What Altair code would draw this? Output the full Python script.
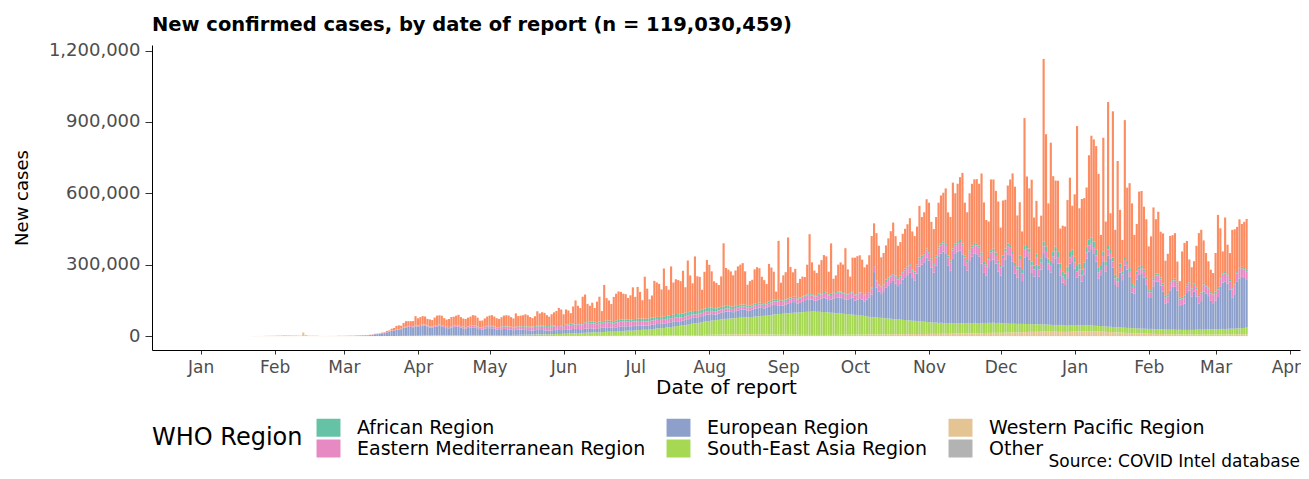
import altair as alt
import pandas as pd

TITLE = "New confirmed cases, by date of report (n = 119,030,459)"
Y_TITLE = "New cases"
X_TITLE = "Date of report"
LEGEND_TITLE = "WHO Region"
CAPTION = "Source: COVID Intel database"
FONT = "DejaVu Sans"

# ---- daily new confirmed cases, in thousands, one value per day from each series' start date ----
AMR_START = "2020-03-01"
AMR_K = (
    [0.02,0.03,0.03,0.05,0.08,0.1,0.1,0.15,0.2,0.3,0.4,0.5,0.6,0.9,1.0,1.2,1.8,2.0,4.5,4.0,8,9,13,16,12,18,23,20,20,22,38]
    + [30.5,33,35,34,27,29,27,34,40,39,39,32,30,33,38,37,39,44,37,34,34,36,38,43,42,36,27,29,34,39]
    + [43,45,41,37,35,40,44,46,45,40,36,56,43,44,46,51,47,40,36,42,61,52,57,55,46,40,49,55,59,72,66]
    + [45,64,58,45,71,95,73,63,110,117,77,67,80,58,88,104,42,151,93,84,71,102,112,120,116,108,106,90,103,134]
    + [93,134,112,77,176,127,80,93,153,145,139,115,203,126,109,204,135,146,143,138,180,107,217,151,116,229,146,140,83,155,202]
    + [181,153,113,106,95,128,265,159,153,147,132,148,163,168,174,139,88,102,105,144,151,144,110,97,79,158,140,117,35,249,75]
    + [105,115,256,129,103,117,64,78,84,78,125,251,134,104,93,122,139,155,153,95,212,58,70,113,122,116,191,100,65,141]
    + [154,155,156,139,115,119,150,216,175,199,162,123,133,144,165,185,212,165,136,141,157,168,178,193,159,149,160,217,161,171,207]
    + [203,153,143,163,184,203,206,233,182,183,277,212,241,264,297,221,201,240,259,267,269,259,332,250,186,149,297,291,259,249]
    + [157,231,205,244,275,326,320,214,225,162,538,288,253,344,201,221,163,179,768,471,232,497,316,278,299,147,191,198,280,312,184]
    + [263,588,232,297,270,249,355,427,429,436,392,127,477,167,601,150,615,189,491,226,131,575,308,357,339,212,200,316,315,264,242]
    + [184,226,297,228,260,192,211,145,170,195,184,191,88,70,191,220,184,96,89,93,177,260,263,179,135,109,94,90]
    + [162,307,205,92,229,124,113,245,232,190,207,180,194,214]
)

AFR_START = "2020-03-13"
AFR_K = (
    [0.01,0.01,0.02,0.03,0.04,0.05,0.06,0.07,0.1,0.1,0.15,0.15,0.2,0.25,0.3,0.3,0.35,0.35,0.4]
    + [0.4,0.5,0.5,0.6,0.5,0.6,0.6,0.7,0.6,0.7,0.7,0.8,0.7,0.7,0.8,0.9,0.9,0.8,1.0,1.0,1.1,1.1,1.0,1.2,1.3,1.2,1.3,1.4,1.4,1.6]
    + [1.5,1.7,1.6,1.7,1.8,1.8,2.0,2.0,2.2,2.1,2.3,2.5,2.4,2.6,2.8,2.7,2.9,3.1,3.0,3.2,3.4,3.3,3.6,3.5,3.7,3.9,3.8,4.1,4.0,4.3,4.4]
    + [4.5,4.7,4.8,5.1,5.2,5.5,5.4,5.8,6.1,6.2,6.5,6.6,6.9,7.0,6.8,7.3,7.4,7.7,7.8,8.1,8.2,8.5,8.6,8.9,9.0,9.3,9.4,9.7,9.8,10.1]
    + [10.0,10.4,10.5,10.9,11.0,11.1,11.6,11.8,12.1,12.2,12.6,12.8,13.0,13.3,13.5,13.9,14.0,14.3,14.2,14.6,14.5,14.8,14.9,14.7,14.8,14.6,14.5,14.1,14.0,13.7,13.5]
    + [13.2,13.1,12.6,12.5,12.0,11.8,11.3,11.1,10.6,10.5,10.0,9.8,9.3,9.2,8.7,8.6,8.2,8.2,7.8,7.8,7.4,7.4,7.0,7.1,6.8,6.9,6.6,6.7,6.4,6.5,6.2]
    + [6.3,6.0,6.1,5.8,5.9,5.6,5.7,5.4,5.5,5.2,5.3,5.0,5.1,4.9,5.0,5.1,4.9,5.0,5.1,4.9,5.0,5.2,4.9,5.1,5.0,4.8,5.0,5.1,4.9,5.0]
    + [5.1,4.9,5.0,5.2,4.8,5.0,5.1,4.9,5.0,5.1,5.0,5.2,5.3,5.5,5.4,5.6,5.8,5.7,5.9,6.1,6.0,6.2,6.4,6.3,6.5,6.7,6.6,6.8,7.0,6.9,7.1]
    + [7.2,7.4,7.3,7.5,7.7,7.6,7.8,8.0,7.9,8.1,8.3,8.2,8.4,8.6,8.5,8.7,8.9,8.8,9.0,9.2,9.1,9.3,9.5,9.4,9.6,9.8,9.7,9.9,10.1,10.0]
    + [10.0,10.6,11.0,11.4,12.1,12.5,12.9,13.6,14.0,14.4,15.1,15.5,15.9,16.6,17.0,17.4,18.1,18.5,18.9,19.6,20.0,20.4,21.1,21.5,21.8,22.1,21.9,22.2,21.8,22.6,23.0]
    + [22.8,23.6,24.1,23.9,24.2,24.0,23.8,23.6,23.1,22.9,22.2,21.0,20.1,18.9,18.1,16.9,16.1,15.0,14.6,13.9,13.6,12.9,12.6,11.9,11.6,10.9,10.6,10.1,9.9,9.6,9.4]
    + [9.1,8.9,9.0,8.6,8.4,8.5,8.1,7.9,8.0,7.6,7.4,7.5,7.1,6.9,7.0,7.1,6.9,6.6,6.4,6.5,6.6,6.4,6.5,6.1,5.9,6.0,6.1,5.9]
    + [6.0,6.1,5.9,6.0,6.2,5.8,6.0,6.1,5.9,6.0,6.2,5.9,6.0,6.1]
)

EMR_START = "2020-02-20"
EMR_K = (
    [0.01,0.02,0.03,0.05,0.05,0.07,0.1,0.1,0.15,0.2]
    + [0.3,0.5,0.6,0.7,0.7,0.8,1.1,0.9,0.6,0.9,1.1,1.2,1.0,1.5,1.3,1.5,1.6,1.5,1.8,1.5,1.4,1.5,2.0,2.2,2.5,2.6,3.0,3.4,3.8,3.5,4.0]
    + [4.2,4.5,4.6,4.5,4.3,4.2,4.4,4.6,4.8,5.0,5.2,5.0,5.1,5.3,5.6,5.8,6.0,6.0,5.9,6.1,6.3,6.5,6.8,7.0,7.1,7.2,7.0,7.3,7.6,8.0]
    + [8.2,8.6,8.7,8.9,9.3,9.5,10.1,10.2,10.4,10.9,11.0,10.8,11.6,12.0,12.1,12.6,12.8,12.9,13.4,13.5,14.1,14.2,14.4,14.7,14.8,14.9,15.3,15.5,15.7,16.1,16.2]
    + [16.5,17.1,17.4,18.1,18.4,19.1,19.4,20.1,19.9,20.6,20.4,21.1,20.9,21.0,20.0,21.1,20.9,21.2,21.5,20.9,20.1,19.9,20.6,20.4,20.1,19.9,19.6,19.1,18.9,19.1]
    + [19.1,18.9,19.2,18.4,18.6,17.9,18.1,18.0,17.9,17.6,17.4,17.1,16.9,17.0,16.6,16.4,16.1,15.9,16.0,15.6,15.4,15.6,15.1,14.9,15.0,14.6,14.4,14.5,14.1,13.9,14.0]
    + [14.0,13.7,13.6,13.4,13.3,13.1,13.0,12.9,13.1,12.9,13.0,13.1,12.9,13.0,13.2,13.4,13.3,13.6,13.7,13.9,14.0,14.3,14.4,14.7,14.8,15.1,15.2,15.5,15.6,15.9,16.0]
    + [16.0,16.3,16.3,16.6,16.5,16.8,16.7,17.1,17.1,17.5,17.5,17.9,17.9,18.3,18.3,18.7,18.7,19.1,19.1,19.5,19.5,19.9,19.9,20.3,20.3,20.7,20.7,21.1,21.1,21.5]
    + [21.4,22.1,22.4,23.1,22.9,23.6,23.9,24.6,24.9,25.1,25.4,26.1,25.9,26.6,26.9,27.1,27.4,28.1,27.9,28.6,28.9,29.1,29.4,30.1,29.9,30.6,30.9,31.1,31.4,32.1,31.9]
    + [32.1,31.9,33.1,32.9,33.2,34.1,33.9,34.2,35.1,34.9,35.2,34.8,36.1,35.9,36.2,35.8,36.1,35.9,37.1,36.9,37.2,36.8,37.1,36.9,37.2,36.8,36.1,35.9,36.2,35.8]
    + [35.1,34.9,34.1,33.9,34.2,33.1,32.9,33.2,32.1,31.9,32.2,31.1,30.9,31.2,30.1,29.9,30.2,29.1,28.9,29.2,28.1,27.9,28.2,27.1,26.9,27.2,26.1,25.9,26.2,26.1,25.9]
    + [26.1,25.9,26.2,25.8,26.1,25.9,26.2,25.8,26.1,25.9,25.1,24.9,25.2,24.8,25.1,24.9,25.2,24.1,23.9,24.2,23.8,24.1,23.9,24.2,23.8,24.1,23.9,24.2,23.8,24.1,23.9]
    + [24.1,23.9,25.1,24.9,25.2,24.8,25.1,26.1,25.9,26.2,25.8,27.1,26.9,27.2,26.8,28.1,27.9,28.2,27.8,29.1,28.9,29.2,30.1,29.9,30.2,31.1,30.9,31.2]
    + [32.1,31.9,33.1,32.9,33.2,34.1,33.9,34.2,35.1,34.9,35.2,36.1,35.9,36.2]
)

EUR_START = "2020-02-21"
EUR_K = (
    [0.02,0.05,0.1,0.15,0.1,0.15,0.2,0.3,0.3]
    + [0.5,0.6,0.8,0.9,1.0,1.5,1.8,2.2,2.5,3.0,3.0,4.0,5.0,7.0,8.0,9.0,11.0,12.5,15.0,18.0,21,23,27,26,28,33,35,38,37,36,40]
    + [38,40,42,41,38,34,33,36,38,40,38,35,31,30,33,35,37,36,33,30,28,31,33,34,33,30,26,25,28,30]
    + [30,29,27,24,22,24,26,25,24,22,20,21,22,22,21,20,19,18,17,18,19,19,18,17,16,15,16,17,18,17,16]
    + [16,16,17,17,18,18,17,16,16,17,17,18,17,16,15,17,18,18,19,18,17,16,18,19,20,20,19,18,17,19]
    + [19,18,19,18,17,17,17,18,19,19,18,17,17,18,19,20,21,21,20,19,20,22,23,24,24,23,22,24,26,27,28]
    + [28,27,25,24,26,28,30,31,30,27,26,29,31,32,33,32,28,27,30,33,35,36,34,31,33,36,38,40,39,36,34]
    + [34,36,40,42,45,44,38,40,43,46,50,52,50,45,47,52,56,60,58,52,55,60,64,66,68,65,60,62,68,72]
    + [60,65,70,68,62,70,80,95,190,125,110,100,110,130,140,150,160,150,140,150,170,180,190,200,180,170,200,230,240,250,270]
    + [260,230,210,240,280,290,300,290,240,220,270,290,300,305,290,240,220,260,280,290,290,280,250,210,200,230,260,265,250,215]
    + [200,240,270,290,285,260,210,195,240,180,280,285,270,215,200,250,200,230,300,280,230,220,260,280,260,210,180,170,200,260,270]
    + [240,200,210,185,215,280,310,320,305,270,200,210,270,230,300,285,250,180,170,230,200,260,245,215,150,145,205,225,230,215,185]
    + [130,130,180,200,200,185,160,110,115,165,180,180,165,100,105,110,155,165,140,160,140,110,120,160,150,140,120,110]
    + [120,135,180,195,200,190,165,130,145,195,210,215,210,200]
)

SEAR_START = "2020-03-04"
SEAR_K = (
    [0.01,0.01,0.01,0.01,0.01,0.01,0.01,0.02,0.02,0.02,0.02,0.02,0.02,0.02,0.03,0.05,0.06,0.1,0.1,0.15,0.15,0.2,0.2,0.25,0.3,0.3,0.4,0.4]
    + [0.5,0.6,0.7,0.8,0.8,0.9,0.9,1.0,1.0,1.1,1.2,1.3,1.2,1.3,1.4,1.5,1.6,1.7,1.8,1.8,1.9,2.0,2.0,2.1,2.2,2.3,2.4,2.4,2.6,2.8]
    + [2.9,3.1,3.2,3.2,3.6,3.8,3.8,4.1,4.2,4.2,4.6,4.7,4.7,5.1,5.2,5.2,5.6,5.8,5.9,6.3,6.4,6.5,6.9,7.0,7.0,7.4,7.5,7.7,8.1,8.3,8.5]
    + [9,9.5,10,10.5,11,11.5,12,12,12.5,13,13.5,14,14.5,15,14,15,15.5,16,17,17.5,17.5,17,17.5,18,19,19.5,20.5,22,21,21]
    + [22,23.5,23,24.5,25,24.5,26,27.5,28,29.5,30,31.5,32,33.5,34,35.5,36,38.5,39,40.5,41,42.5,44,46.5,48,49.5,50,51.5,53,55.5,57]
    + [58,59.5,60,61.5,62,63.5,64,65.5,66,67.5,67,68.5,69,70.5,70,71.5,71,72.5,73,74.5,75,76.5,77,78.5,79,80.5,82,84.5,85,86.5,87]
    + [88,89.5,90,91.5,92,93.5,93,94.5,95,96.5,97,97.5,98,98.5,97,97.5,96,96.5,95,94.5,93,92.5,91,90.5,89,88.5,87,86.5,85,84.5]
    + [83,82.5,80,79.5,78,76.5,74,73.5,72,71.5,70,69.5,68,67.5,66,65.5,64,63.5,62,61.5,60,59.5,58,57.5,56,55.5,54,53.5,52,51.5,50]
    + [49,48.5,47,47.5,46,46.5,45,45.5,45,44.5,44,44.5,44,43.5,43,43.5,43,43.5,43,43.5,42,42.5,42,42.5,42,42.5,42,42.5,41,41.5]
    + [40,39.5,38,38.5,37,36.5,36,35.5,35,34.5,34,33.5,33,32.5,32,31.5,31,30.5,30,29.5,29,28.5,28,28.5,27,27.5,27,26.5,26,26.5,26]
    + [25,25.5,25,24.5,24,24.5,24,24.5,23,23.5,23,23.5,23,22.5,22,22.5,22,22.5,21,21.5,21,21.5,21,21.5,21,21.5,20,20.5,20,20.5,20]
    + [20,20.5,20,20.5,20,19.5,19,19.5,19,19.5,19,19.5,19,19.5,19,19.5,19,19.5,19,19.5,20,20.5,20,20.5,21,21.5,21,21.5]
    + [22,22.5,22,23.5,23,23.5,24,24.5,24,25.5,25,26.5,27,28.5]
)

WPR_START = "2020-01-20"
WPR_K = (
    [0.1,0.15,0.25,0.3,0.45,0.7,0.8,0.8,1.3,1.5,1.7,2.0]
    + [2.1,2.6,2.8,3.2,3.9,3.7,3.2,3.4,2.7,3.0,2.5,2.0,15.2,5.1,2.6,2.0,2.0,1.9,1.8,0.4,0.9,0.6,0.8,0.9,0.8,0.9,1.0,1.4,1.3]
    + [0.8,0.8,0.7,0.6,0.5,0.4,0.5,0.4,0.3,0.3,0.3,0.3,0.3,0.3,0.4,0.3,0.4,0.5,0.5,0.6,0.6,0.6,0.7,0.8,1.0,1.0,1.1,1.2,1.3,1.1,1.3]
    + [1.4,1.5,1.6,1.7,1.8,1.6,1.7,1.8,1.9,1.8,1.7,1.6,1.5,1.6,1.5,1.4,1.5,1.3,1.2,1.1,1.0,1.0,1.0,0.9,0.9,0.9,0.8,0.8,0.9,0.8]
    + [0.8,0.7,0.7,0.6,0.6,0.7,0.6,0.5,0.6,0.6,0.5,0.6,0.7,0.6,0.6,0.5,0.6,0.6,0.7,0.6,0.6,0.5,0.6,0.6,0.7,0.7,0.6,0.7,0.8,0.8,0.9]
    + [0.8,0.9,0.8,0.9,1.0,1.0,0.9,1.1,1.0,1.1,1.2,1.1,1.2,1.3,1.2,1.3,1.4,1.3,1.4,1.5,1.4,1.5,1.6,1.5,1.6,1.7,1.8,1.7,1.8,1.9]
    + [1.9,2.0,2.1,2.0,2.2,2.1,2.3,2.4,2.3,2.5,2.6,2.8,2.7,2.9,3.1,3.0,3.2,3.4,3.3,3.5,3.7,3.6,3.8,4.1,4.2,4.3,4.7,4.8,4.9,5.3,5.4]
    + [5.6,5.9,6.0,6.1,6.5,6.6,6.7,7.1,7.2,7.3,7.6,7.5,7.8,7.7,7.9,7.8,7.6,7.7,7.4,7.5,7.2,7.3,7.0,7.1,6.8,6.9,6.6,6.7,6.4,6.5,6.2]
    + [6.3,6.0,6.1,5.8,5.9,5.6,5.7,5.4,5.5,5.2,5.3,5.0,5.1,4.9,5.0,5.1,4.9,5.0,5.1,5.0,5.2,5.3,5.4,5.6,5.5,5.7,5.8,5.9,6.1,6.0]
    + [6.2,6.4,6.3,6.6,6.5,6.7,6.9,6.8,7.1,7.0,7.2,7.4,7.3,7.6,7.5,7.7,7.9,7.8,8.1,8.0,8.2,8.4,8.3,8.6,8.5,8.7,8.9,8.8,9.1,9.0,9.2]
    + [9.3,9.5,9.4,9.7,9.6,9.8,10.0,9.9,10.1,10.3,10.4,10.7,10.8,11.1,11.2,11.5,11.6,11.9,12.0,12.3,12.4,12.7,12.8,13.1,13.2,13.5,13.6,13.9,14.0,14.3]
    + [14.1,13.9,14.6,15.1,14.9,15.6,16.1,15.9,16.6,17.1,16.9,17.6,18.1,17.9,18.2,18.6,18.4,19.1,18.9,19.2,18.8,19.1,18.9,18.6,18.4,18.1,17.9,18.2,17.8,18.6,19.1]
    + [19.1,19.6,20.1,19.9,20.6,21.1,20.9,21.2,20.4,20.1,19.4,19.1,18.4,18.1,17.4,17.1,16.4,16.1,15.4,15.1,14.4,14.1,13.4,13.1,12.4,12.1,11.9,11.6,11.1,10.9,10.6]
    + [10.1,9.9,9.6,9.4,9.1,8.9,8.6,8.4,8.1,7.9,8.1,7.6,7.4,7.6,7.1,6.9,7.1,6.9,7.2,6.8,7.1,6.9,7.2,6.8,7.1,6.9,7.2,6.8]
    + [7.1,6.9,7.2,6.8,7.1,6.9,7.2,6.8,7.1,7.6,7.4,7.6,7.4,7.6]
)

OTHER_START = "2020-02-05"
OTHER_K = [0.01,0.04,0.04,0,0.03,0.07,0.07,0.04,0.04,0,0.07,0.07,0.1,0.09,0.08,0.08,0.01,0.06]

# region name, first date, values, stack position (0 = bottom), colour
REGIONS = [
    ("Other", OTHER_START, OTHER_K, 0, "#B3B3B3"),
    ("Western Pacific Region", WPR_START, WPR_K, 1, "#E5C494"),
    ("South-East Asia Region", SEAR_START, SEAR_K, 2, "#A6D854"),
    ("European Region", EUR_START, EUR_K, 3, "#8DA0CB"),
    ("Eastern Mediterranean Region", EMR_START, EMR_K, 4, "#E78AC3"),
    ("African Region", AFR_START, AFR_K, 5, "#66C2A5"),
    ("Region of the Americas", AMR_START, AMR_K, 6, "#FC8D62"),
]
LEGEND_ORDER = ["African Region", "European Region", "Western Pacific Region",
                "Eastern Mediterranean Region", "South-East Asia Region", "Other"]

DAY_MS = 86400000
HALF_BAR = int(0.45 * DAY_MS)


def to_ms(ts):
    return int(pd.Timestamp(ts).value // 10**6)


rows = []
for name, start, vals, rank, _ in REGIONS:
    dates = pd.date_range(start, periods=len(vals), freq="D")
    if name != "Other":
        assert dates[-1] == pd.Timestamp("2021-03-14"), (name, dates[-1])
    for d, v in zip(dates, vals):
        ms = to_ms(d)
        rows.append({"region": name, "rank": rank, "start": ms - HALF_BAR,
                     "end": ms + HALF_BAR, "cases": v * 1000})
df = pd.DataFrame(rows)

month_ticks = [to_ms(d) for d in pd.date_range("2020-01-01", "2021-04-01", freq="MS")]
x_domain = [to_ms("2019-12-11 15:36"), to_ms("2021-04-05 08:24")]
y_domain = [-58250, 1223250]

W, H = 1148, 305
RECT = "M-1.33,-1H1.33V1H-1.33Z"

bars = alt.Chart(df).transform_stack(
    stack="cases", groupby=["start", "end"], as_=["y0", "y1"],
    sort=[alt.SortField("rank", order="ascending")], offset="zero",
).mark_bar(strokeWidth=0).encode(
    x=alt.X("start:T",
            scale=alt.Scale(type="utc", domain=x_domain, nice=False),
            axis=alt.Axis(values=month_ticks, format="%b", grid=False,
                          tickSize=4, labelPadding=5, labelFontSize=17,
                          labelFlush=11, labelFlushOffset=11,
                          labelColor="#4d4d4d", tickColor="#333333",
                          domainColor="black", labelFont=FONT,
                          title=X_TITLE, titleFontSize=20, titleFontWeight="normal",
                          titleColor="black", titleFont=FONT,
                          titleX=W / 2, titleY=37, titleAlign="center",
                          titleBaseline="middle")),
    x2="end:T",
    y=alt.Y("y0:Q",
            scale=alt.Scale(domain=y_domain, nice=False, zero=False),
            axis=alt.Axis(values=[0, 300000, 600000, 900000, 1200000], format=",d",
                          grid=False, tickSize=7, labelPadding=5, labelFontSize=18,
                          labelColor="#4d4d4d", tickColor="#333333",
                          domainColor="black", labelFont=FONT,
                          title=Y_TITLE, titleFontSize=18, titleFontWeight="normal",
                          titleColor="black", titleFont=FONT,
                          titleX=-130, titleY=H / 2, titleAngle=270,
                          titleAlign="center", titleBaseline="middle")),
    y2="y1:Q",
    color=alt.Color("region:N",
                    scale=alt.Scale(domain=[r[0] for r in REGIONS],
                                    range=[r[4] for r in REGIONS]),
                    legend=alt.Legend(values=LEGEND_ORDER, orient="none",
                                      legendX=0, legendY=373,
                                      direction="horizontal", columns=3,
                                      title=LEGEND_TITLE, titleOrient="left",
                                      titleFontSize=24, titleFontWeight="normal",
                                      titleColor="black", titleFont=FONT,
                                      titlePadding=16, titleAnchor="middle",
                                      titleBaseline="middle",
                                      labelFontSize=19, labelColor="black",
                                      labelFont=FONT, labelOffset=19, labelLimit=0,
                                      symbolType=RECT, symbolSize=324,
                                      symbolStrokeWidth=0, symbolOpacity=1,
                                      columnPadding=20, rowPadding=1,
                                      gridAlign="each", padding=0)),
    order=alt.Order("rank:Q"),
)

caption = alt.Chart(pd.DataFrame({"t": [CAPTION]})).mark_text(
    align="right", baseline="alphabetic", fontSize=17, font=FONT, color="black"
).encode(x=alt.value(W), y=alt.value(422), text="t:N")

chart = alt.layer(bars, caption).properties(
    width=W, height=H,
    autosize=alt.AutoSizeParams(type="none"),
    padding={"left": 144, "top": 37, "right": 1, "bottom": 121},
    title=alt.TitleParams(TITLE, anchor="start", frame="group", fontSize=19.5,
                          fontWeight="bold", font=FONT, color="black", offset=6),
).configure(font=FONT).configure_view(stroke=None)

chart.save("out.html", embed_options={"renderer": "svg", "actions": False})
